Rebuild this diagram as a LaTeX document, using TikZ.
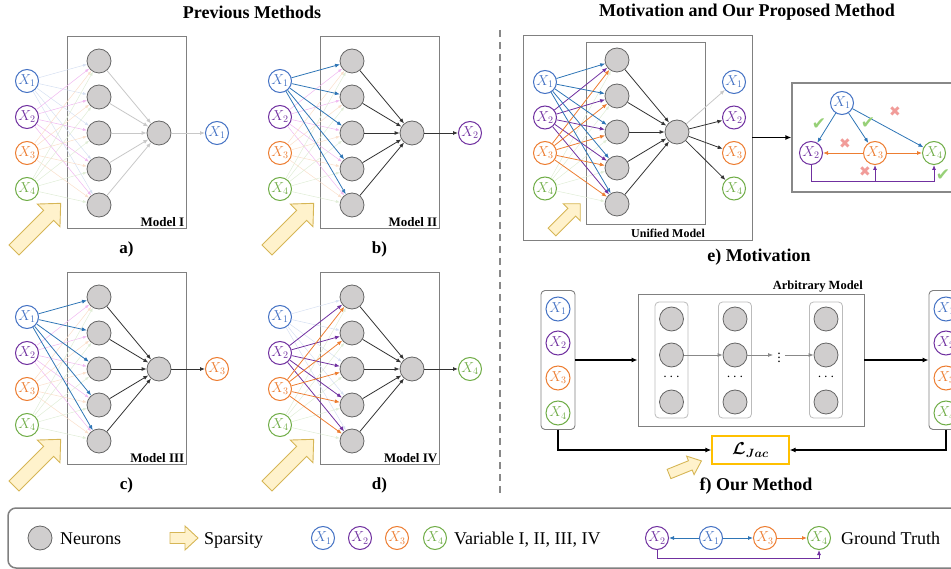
\documentclass[tikz,border=0pt]{standalone}
\usepackage{bm}
\usepackage{fontspec}
\setmainfont{Liberation Serif}
\newfontfamily\symfont{DejaVu Sans}
\usetikzlibrary{arrows.meta}
\definecolor{cblue}{HTML}{4472C4}
\definecolor{eblue}{HTML}{2E75B6}
\definecolor{cpurple}{HTML}{7030A0}
\definecolor{corange}{HTML}{ED7D31}
\definecolor{cgreen}{HTML}{70AD47}
\colorlet{fblue}{cblue!22}
\definecolor{fpurple}{HTML}{F0B8F0}
\colorlet{forange}{corange!25}
\colorlet{fgreen}{cgreen!22}
\definecolor{neurfill}{HTML}{D0CECE}
\definecolor{neurdraw}{HTML}{666666}
\definecolor{boxgray}{HTML}{808080}
\definecolor{darkc}{HTML}{333333}
\definecolor{lgrayc}{HTML}{C8C8C8}
\definecolor{midgray}{HTML}{888888}
\definecolor{spfill}{HTML}{FFF2CC}
\definecolor{spdraw}{HTML}{D6B656}
\definecolor{jacgold}{HTML}{FFC000}
\definecolor{ckgreen}{HTML}{97D077}
\definecolor{xred}{HTML}{F19C99}
\definecolor{colgray}{HTML}{BBBBBB}

\tikzset{
 neuron/.style={circle, draw=neurdraw, fill=neurfill, line width=0.8pt, minimum size=24pt, inner sep=0pt},
 var/.style={circle, draw=#1, text=#1, fill=white, line width=1pt, minimum size=23pt, inner sep=0pt, font=\fontsize{14}{14}\selectfont},
 panelbox/.style={draw=boxgray, line width=0.9pt, inner sep=0pt},
 conn/.style={line width=0.8pt, -{Latex[length=5pt,width=4pt]}},
 faint/.style={line width=0.5pt, -{Latex[length=4pt,width=3pt]}},
 modellabel/.style={font=\bfseries\fontsize{13}{13}\selectfont, inner sep=2pt},
 sublabel/.style={font=\bfseries\fontsize{17}{17}\selectfont},
 titlelabel/.style={font=\bfseries\fontsize{18}{18}\selectfont},
 legendtext/.style={font=\fontsize{18}{18}\selectfont, anchor=base west, inner sep=0pt},
 sparsity/.style={fill=spfill, draw=spdraw, line width=0.9pt},
 pics/sparrow/.style n args={4}{code={
   \draw[sparsity] (0,-#4) -- ({#1-#2},-#4) -- ({#1-#2},-#3) -- (#1,0) -- ({#1-#2},#3) -- ({#1-#2},#4) -- (0,#4) -- cycle;}},
 colbox/.style={draw=colgray, fill=white, rounded corners=4pt, line width=0.8pt, minimum width=33pt, minimum height=116pt, inner sep=0pt},
 varcol/.style={draw=boxgray, fill=white, rounded corners=4pt, line width=0.9pt, minimum width=34pt, minimum height=139pt, inner sep=0pt},
 thickconn/.style={line width=1.2pt, -{Latex[length=6pt,width=5pt]}},
 check/.style={text=ckgreen, font=\symfont\fontsize{17}{17}\selectfont, inner sep=0pt},
 cross/.style={text=xred, font=\symfont\fontsize{14}{14}\selectfont, inner sep=0pt},
 jacbox/.style={draw=jacgold, line width=1.2pt, minimum width=77pt, minimum height=28pt, inner sep=0pt, font=\fontsize{18}{18}\selectfont},
}

\newcommand\prevpanel[7]{%
 \begin{scope}[shift={(#2,#3)}]
  \node[panelbox, minimum width=119pt, minimum height=192pt] (#1box) at (126.5,132) {};
  \node[modellabel, anchor=south east] at (#1box.south east) {#4};
  \node[sublabel] at (126.5,249) {#5};
  \foreach \i/\c in {1/cblue,2/cpurple,3/corange,4/cgreen}
    {\node[var=\c] (#1x\i) at (27,{45+36*\i}) {$X_{\i}$};}
  \foreach \j in {1,...,5}
    {\node[neuron] (#1n\j) at (99,{25+36*\j}) {};}
  \node[neuron] (#1o) at (159,133) {};
  \node[var=#6] (#1y) at (217,133) {$X_{#7}$};
  \pic[rotate=45] at (14,250) {sparrow={66}{17}{16}{7}};
 \end{scope}}

\begin{document}
\begin{tikzpicture}[x=1pt,y=-1pt]
\useasboundingbox (0,0) rectangle (951,569);

% titles
\node[titlelabel] (t1) at (252,12) {Previous Methods};
\node[titlelabel] (t2) at (747,12) {Motivation and Our Proposed Method};
\draw[midgray, line width=1.2pt, dash pattern=on 7pt off 5pt] (500,30) -- (500,495);

% previous panels
\prevpanel{a}{0}{0}{Model I}{a)}{cblue}{1}
\prevpanel{b}{253}{0}{Model II}{b)}{cpurple}{2}
\prevpanel{c}{0}{236}{Model III}{c)}{corange}{3}
\prevpanel{d}{253}{236}{Model IV}{d)}{cgreen}{4}

% panel a edges
\foreach \i/\c in {1/fblue,2/fpurple,3/forange,4/fgreen}{\foreach \j in {1,...,5}{\draw[faint,color=\c] (ax\i) -- (an\j);}}
\foreach \j in {1,...,5}{\draw[conn,lgrayc] (an\j) -- (ao);}
\draw[conn,lgrayc] (ao) -- (ay);
% panel b edges
\foreach \i/\c in {2/fpurple,3/forange,4/fgreen}{\foreach \j in {1,...,5}{\draw[faint,color=\c] (bx\i) -- (bn\j);}}
\foreach \j in {1,...,5}{\draw[conn,eblue] (bx1) -- (bn\j); \draw[conn,darkc] (bn\j) -- (bo);}
\draw[conn,darkc] (bo) -- (by);
% panel c edges
\foreach \i/\c in {2/fpurple,3/forange,4/fgreen}{\foreach \j in {1,...,5}{\draw[faint,color=\c] (cx\i) -- (cn\j);}}
\foreach \j in {1,...,5}{\draw[conn,eblue] (cx1) -- (cn\j); \draw[conn,darkc] (cn\j) -- (co);}
\draw[conn,darkc] (co) -- (cy);
% panel d edges
\foreach \i/\c in {1/fblue,4/fgreen}{\foreach \j in {1,...,5}{\draw[faint,color=\c] (dx\i) -- (dn\j);}}
\foreach \j in {1,...,5}{\draw[conn,cpurple] (dx2) -- (dn\j);}
\foreach \j in {1,...,5}{\draw[conn,corange] (dx3) -- (dn\j); \draw[conn,darkc] (dn\j) -- (do);}
\draw[conn,darkc] (do) -- (dy);

% panel e
\node[panelbox, minimum width=229pt, minimum height=205pt] (eout) at (637.5,137.5) {};
\node[panelbox, minimum width=119pt, minimum height=182pt] (ein) at (645.5,133) {};
\node[font=\bfseries\fontsize{12}{12}\selectfont] (eulab) at (668,233) {Unified Model};
\pic[rotate=45] at (552,232) {sparrow={40}{12}{12}{5.5}};
\foreach \i/\c in {1/cblue,2/cpurple,3/corange,4/cgreen}
  {\node[var=\c] (ex\i) at (545,{46.5+35.5*\i}) {$X_{\i}$};
   \node[var=\c] (ey\i) at (734,{46.5+35.5*\i}) {$X_{\i}$};}
\foreach \j in {1,...,5}{\node[neuron] (en\j) at (617,{24+36*\j}) {};}
\node[neuron] (eo) at (677,132) {};
\foreach \j in {1,...,5}{\draw[faint,fgreen] (ex4) -- (en\j);}
\foreach \j in {1,...,5}{\draw[conn,cpurple] (ex2) -- (en\j);}
\foreach \j in {1,...,5}{\draw[conn,corange] (ex3) -- (en\j);}
\foreach \j in {1,...,5}{\draw[conn,eblue] (ex1) -- (en\j);}
\foreach \j in {1,...,5}{\draw[conn,darkc] (en\j) -- (eo);}
\draw[conn,lgrayc] (eo) -- (ey1);
\foreach \i in {2,3,4}{\draw[conn,darkc] (eo) -- (ey\i);}
\node[font=\bfseries\fontsize{18}{18}\selectfont] (elab) at (759,257) {e) Motivation};

% causal graph
\node[panelbox, draw=midgray, line width=1.2pt, minimum width=168pt, minimum height=109pt] (gbox) at (876,137.5) {};
\draw[thickconn] (eout.east) -- (gbox.west);
\node[var=cblue] (g1) at (842,103) {$X_1$};
\node[var=cpurple] (g2) at (811,153) {$X_2$};
\node[var=corange] (g3) at (875,153) {$X_3$};
\node[var=cgreen] (g4) at (934,153) {$X_4$};
\draw[conn,eblue] (g1) -- (g2);
\draw[conn,eblue] (g1) -- (g3);
\draw[conn,eblue] (g1) -- (g4);
\draw[conn,corange] (g3) -- (g2);
\draw[conn,corange] (g3) -- (g4);
\draw[conn,cpurple] (g2.south) -- ++(0,16) -| (g3.south);
\draw[conn,cpurple] (g2.south) -- ++(0,16) -| (g4.south);
\node[check] (k1) at (819,124) {✔};
\node[check] (k2) at (868,123) {✔};
\node[check] (k3) at (943,175) {✔};
\node[cross] (m1) at (895,112) {✖};
\node[cross] (m2) at (845,144) {✖};
\node[cross] (m3) at (865,172) {✖};

% panel f
\node[varcol] (fL) at (558,360) {};
\node[varcol] (fR) at (946,360) {};
\foreach \i/\c/\yy in {1/cblue/309,2/cpurple/343,3/corange/378,4/cgreen/413}
  {\node[var=\c, minimum size=24pt] (fL\i) at (558,\yy) {$X_{\i}$};
   \node[var=\c, minimum size=24pt] (fR\i) at (946,\yy) {$X_{\i}$};}
\node[panelbox, minimum width=226pt, minimum height=132pt] (arb) at (751,360) {};
\node[font=\bfseries\fontsize{12.5}{12.5}\selectfont, anchor=south east, inner sep=1.5pt] (arblab) at (arb.north east) {Arbitrary Model};
\foreach \k/\xx in {1/671.5,2/735,3/826}
  {\node[colbox] (fc\k) at (\xx,360) {};
   \node[neuron] (f\k a) at (\xx,319) {};
   \node[neuron] (f\k b) at (\xx,355) {};
   \node[neuron] (f\k c) at (\xx,402) {};
   \node[font=\fontsize{14}{14}\selectfont] (f\k d) at (\xx,377) {$\cdots$};}
\node[inner xsep=4pt, inner ysep=0pt, font=\fontsize{14}{14}\selectfont] (vd) at (779,355) {$\vdots$};
\draw[conn,midgray] (f1b) -- (f2b);
\draw[conn,midgray] (f2b) -- (vd);
\draw[conn,midgray] (vd) -- (f3b);
\draw[thickconn] (fL.east) -- (arb.west);
\draw[thickconn] (arb.east) -- (fR.west);
\node[jacbox] (ljac) at (750.5,450) {$\bm{\mathcal{L}}_{\bm{Jac}}$};
\draw[thickconn] (fL.south) |- (ljac.west);
\draw[thickconn] (fR.south) |- (ljac.east);
\pic[rotate=22] at (669,474) {sparrow={35}{12}{10}{5}};
\node[font=\bfseries\fontsize{18}{18}\selectfont] (flab) at (756,486) {f) Our Method};

% legend
\draw[boxgray, line width=1.5pt, rounded corners=8pt] (8,508) rectangle (1000,568);
\node[neuron] (lgn) at (40,538) {};
\node[legendtext] (lt1) at (60,544) {Neurons};
\pic at (170,538) {sparrow={28}{13}{12}{5.5}};
\node[legendtext] (lt2) at (204,544) {Sparsity};
\node[var=cblue] (lv1) at (323,538) {$X_1$};
\node[var=cpurple] (lv2) at (360,538) {$X_2$};
\node[var=corange] (lv3) at (397,538) {$X_3$};
\node[var=cgreen] (lv4) at (435,538) {$X_4$};
\node[legendtext] (lt3) at (454,544) {Variable I, II, III, IV};
\node[var=cpurple] (lg2) at (657,538) {$X_2$};
\node[var=cblue] (lg1) at (711,538) {$X_1$};
\node[var=corange] (lg3) at (765,538) {$X_3$};
\node[var=cgreen] (lg4) at (819,538) {$X_4$};
\draw[conn,eblue] (lg1) -- (lg2);
\draw[conn,eblue] (lg1) -- (lg3);
\draw[conn,corange] (lg3) -- (lg4);
\draw[conn,cpurple] (lg2.south) -- ++(0,8) -| (lg4.south);
\node[legendtext] (lt4) at (841,544) {Ground Truth};
\end{tikzpicture}
\end{document}
